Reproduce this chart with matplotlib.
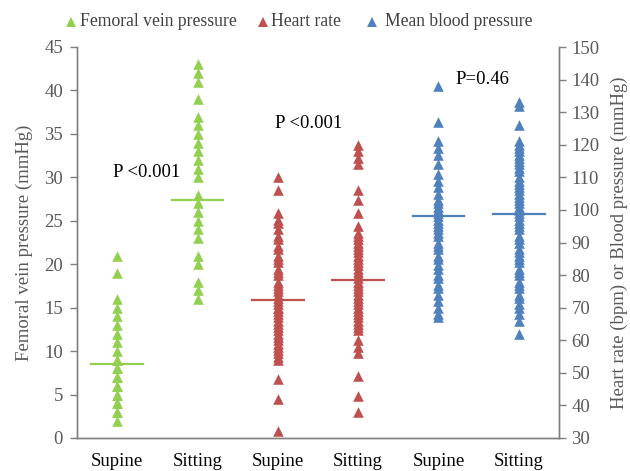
import matplotlib
matplotlib.use("Agg")
import matplotlib.pyplot as plt
from matplotlib.lines import Line2D

plt.rcParams['font.family'] = ['Liberation Serif', 'DejaVu Serif']

categories = ["Supine", "Sitting", "Supine", "Sitting", "Supine", "Sitting"]

fvp_supine = [2, 3, 3, 4, 4, 5, 5, 6, 6, 7, 7, 8, 8, 9, 9, 10, 11, 12, 13, 14, 15, 16, 19, 21]
fvp_sitting = [16, 17, 18, 20, 21, 23, 24, 25, 26, 27, 28, 30, 31, 32, 33, 34, 35, 36, 37,
               39, 41, 42, 43]
hr_supine = [32, 42, 48, 54, 55, 56, 57, 58, 59, 60, 61, 62, 63, 64, 65, 66, 67, 68, 69, 70,
             70, 71, 72, 73, 74, 75, 76, 77, 78, 80, 81, 82, 84, 85, 86, 88, 89, 91, 92, 94,
             96, 97, 99, 106, 110]
hr_sitting = [38, 43, 49, 56, 58, 60, 63, 64, 65, 66, 67, 68, 69, 70, 71, 72, 73, 74, 75, 76,
              77, 78, 79, 80, 81, 82, 83, 84, 85, 86, 87, 88, 89, 90, 91, 92, 93, 95, 99, 103,
              106, 114, 116, 118, 120]
mbp_supine = [67, 68, 70, 72, 74, 76, 77, 79, 80, 82, 83, 85, 86, 88, 89, 90, 92, 93, 94, 95,
              96, 97, 98, 99, 100, 101, 102, 103, 105, 107, 109, 111, 114, 117, 119, 121, 127,
              138]
mbp_sitting = [62, 66, 68, 70, 71, 73, 74, 76, 77, 78, 80, 81, 82, 84, 85, 86, 87, 88, 90, 91,
               92, 94, 95, 96, 97, 98, 99, 100, 101, 102, 103, 104, 105, 106, 107, 108, 109,
               110, 112, 113, 114, 115, 116, 117, 118, 119, 120, 121, 126, 132, 133]

fvp_means = [8.5, 27.4]
hr_means = [72.2, 78.6]
mbp_means = [98.2, 98.7]

series_names = ["Femoral vein pressure", "Heart rate", "Mean blood pressure"]
p_labels = ["P <0.001", "P <0.001", "P=0.46"]

green = "#92D050"
red = "#C0504D"
blue = "#4F81BD"
gray = "#595959"

fs = 13.5
W, H = 630, 471

fig = plt.figure(figsize=(W/100, H/100), dpi=100)
ax = fig.add_axes([77/W, 1-438/H, (559-77)/W, (438-47)/H])
ax2 = ax.twinx()

ms = 58
x = list(range(1, 7))

def col(ax_, xpos, vals, color):
    ax_.scatter([xpos]*len(vals), vals, marker='^', s=ms, color=color, linewidths=0, zorder=3)

col(ax, x[0], fvp_supine, green)
col(ax, x[1], fvp_sitting, green)
col(ax2, x[2], hr_supine, red)
col(ax2, x[3], hr_sitting, red)
col(ax2, x[4], mbp_supine, blue)
col(ax2, x[5], mbp_sitting, blue)

hw = 0.32
for xi, m in zip(x[0:2], fvp_means):
    ax.plot([xi-hw, xi+hw], [m, m], color=green, lw=1.6, zorder=4)
for xi, m in zip(x[2:4], hr_means):
    ax2.plot([xi-hw, xi+hw], [m, m], color=red, lw=1.6, zorder=4)
for xi, m in zip(x[4:6], mbp_means):
    ax2.plot([xi-hw, xi+hw], [m, m], color=blue, lw=1.6, zorder=4)

ax.set_xlim(0.5, 6.5)
ax.set_ylim(0, 45)
ax2.set_ylim(30, 150)
ax.set_yticks(range(0, 46, 5))
ax2.set_yticks(range(30, 151, 10))
ax.set_xticks(x)
ax.set_xticklabels(categories)

for a in (ax, ax2):
    a.spines['top'].set_visible(False)
    for s in a.spines.values():
        s.set_color("#7f7f7f")
        s.set_linewidth(1.0)
    a.tick_params(axis='y', colors="#7f7f7f", labelcolor=gray, labelsize=fs,
                  direction='out', length=5, width=1.0)
ax.tick_params(axis='x', length=0, labelsize=fs, labelcolor="black", pad=11)
ax.tick_params(axis='y', pad=5)
ax2.tick_params(axis='y', pad=4)

ax.set_ylabel("Femoral vein pressure (mmHg)", fontsize=fs, color=gray, labelpad=8)
ax2.set_ylabel("Heart rate (bpm) or Blood pressure (mmHg)", fontsize=fs, color=gray, labelpad=8)

ax.text(1.365, 30.5, p_labels[0], fontsize=fs, ha='center', va='center')
ax.text(3.38, 36.25, p_labels[1], fontsize=fs, ha='center', va='center')
ax.text(5.55, 41.3, p_labels[2], fontsize=fs, ha='center', va='center')

# legend drawn manually to match spacing
leg_marker_x = [71, 263, 372]
leg_text_x = [80, 271, 385]
leg_y = 21
for mx, tx, c, name in zip(leg_marker_x, leg_text_x, (green, red, blue), series_names):
    fig.add_artist(Line2D([mx/W], [1-(leg_y+1)/H], marker='^', ls='none', color=c,
                          markersize=7, markeredgewidth=0, transform=fig.transFigure))
    fig.text(tx/W, 1-leg_y/H, name, fontsize=12.7, color="#404040", ha='left', va='center')

fig.savefig("out.png", dpi=100)
